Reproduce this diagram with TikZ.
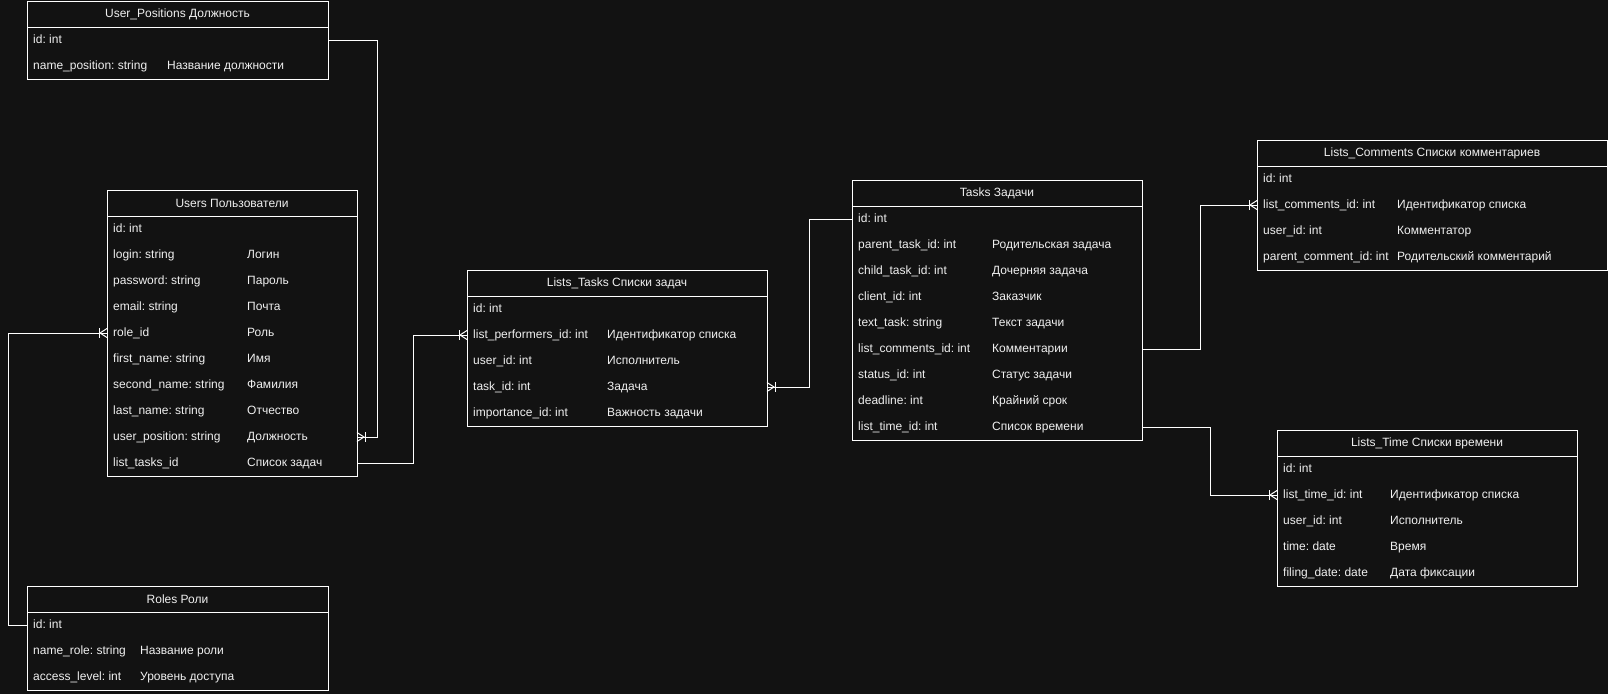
\documentclass[tikz,border=0pt]{standalone}
\usepackage{fontspec}
\setmainfont{Liberation Sans}
\frenchspacing
\usetikzlibrary{calc}
\definecolor{bgc}{HTML}{121212}
\definecolor{fgc}{HTML}{F0F0F0}
\tikzset{
  edge/.style={draw=white, line width=1pt},
  tbl/.style={draw=white, fill=bgc, line width=1pt, inner sep=0pt, outer sep=0pt},
  ttl/.style={text=fgc, font=\fontsize{12}{14}\selectfont, inner sep=0pt},
  fld/.style={text=fgc, font=\fontsize{12}{14}\selectfont, inner sep=0pt, anchor=west, text height=8.6pt, text depth=2.6pt},
}
% table: name, x, y, width, rows, title
\newcommand\ertable[6]{%
  \pgfmathsetmacro\erh{26+26*#5}%
  \node[tbl, minimum width=#4pt, minimum height=\erh pt, anchor=north west] (#1) at (#2,#3) {};
  \node[ttl] (#1-title) at ($(#1.north)+(0,13)$) {#6};
  \draw[edge] ($(#1.north west)+(0,26)$) -- ($(#1.north east)+(0,26)$);
}
% key only: table, index, text
\newcommand\erkey[3]{%
  \node[fld] (#1-r#2) at ($(#1.north west)+(6,{39+26*#2})$) {#3};
}
% key + comment: table, index, offset, key, comment
\newcommand\errow[5]{%
  \node[fld] (#1-r#2) at ($(#1.north west)+(6,{39+26*#2})$) {#4};
  \node[fld] (#1-c#2) at ($(#1.north west)+(#3,{39+26*#2})$) {#5};
}
% crow's foot (one or many): point on box edge, direction (+1 right, -1 left)
\newcommand\crowfoot[2]{%
  \draw[edge] ($(#1)+(0,-4.5)$) -- ($(#1)+({#2*7},0)$) -- ($(#1)+(0,4.5)$);
  \draw[edge] ($(#1)+({#2*8},-5)$) -- ($(#1)+({#2*8},5)$);
}
\begin{document}
\begin{tikzpicture}[x=1pt,y=-1pt]
\fill[bgc] (0,0) rectangle (1608,694);
\useasboundingbox (0,0) rectangle (1608,694);

% User_Positions
\ertable{up}{27}{1}{301}{2}{User\_Positions Должность}
\erkey{up}{0}{id: int}
\errow{up}{1}{140}{name\_position: string}{Название должности}

% Users
\ertable{users}{107}{190}{250}{10}{Users Пользователи}
\erkey{users}{0}{id: int}
\errow{users}{1}{140}{login: string}{Логин}
\errow{users}{2}{140}{password: string}{Пароль}
\errow{users}{3}{140}{email: string}{Почта}
\errow{users}{4}{140}{role\_id}{Роль}
\errow{users}{5}{140}{first\_name: string}{Имя}
\errow{users}{6}{140}{second\_name: string}{Фамилия}
\errow{users}{7}{140}{last\_name: string}{Отчество}
\errow{users}{8}{140}{user\_position: string}{Должность}
\errow{users}{9}{140}{list\_tasks\_id}{Список задач}

% Roles
\ertable{roles}{27}{586}{301}{3}{Roles Роли}
\erkey{roles}{0}{id: int}
\errow{roles}{1}{113}{name\_role: string}{Название роли}
\errow{roles}{2}{113}{access\_level: int}{Уровень доступа}

% Lists_Tasks
\ertable{lt}{467}{270}{300}{5}{Lists\_Tasks Списки задач}
\erkey{lt}{0}{id: int}
\errow{lt}{1}{140}{list\_performers\_id: int}{Идентификатор списка}
\errow{lt}{2}{140}{user\_id: int}{Исполнитель}
\errow{lt}{3}{140}{task\_id: int}{Задача}
\errow{lt}{4}{140}{importance\_id: int}{Важность задачи}

% Tasks
\ertable{tasks}{852}{180}{290}{9}{Tasks Задачи}
\erkey{tasks}{0}{id: int}
\errow{tasks}{1}{140}{parent\_task\_id: int}{Родительская задача}
\errow{tasks}{2}{140}{child\_task\_id: int}{Дочерняя задача}
\errow{tasks}{3}{140}{client\_id: int}{Заказчик}
\errow{tasks}{4}{140}{text\_task: string}{Текст задачи}
\errow{tasks}{5}{140}{list\_comments\_id: int}{Комментарии}
\errow{tasks}{6}{140}{status\_id: int}{Статус задачи}
\errow{tasks}{7}{140}{deadline: int}{Крайний срок}
\errow{tasks}{8}{140}{list\_time\_id: int}{Список времени}

% Lists_Comments
\ertable{lc}{1257}{140}{350}{4}{Lists\_Comments Списки комментариев}
\erkey{lc}{0}{id: int}
\errow{lc}{1}{140}{list\_comments\_id: int}{Идентификатор списка}
\errow{lc}{2}{140}{user\_id: int}{Комментатор}
\errow{lc}{3}{140}{parent\_comment\_id: int}{Родительский комментарий}

% Lists_Time
\ertable{ltime}{1277}{430}{300}{5}{Lists\_Time Списки времени}
\erkey{ltime}{0}{id: int}
\errow{ltime}{1}{113}{list\_time\_id: int}{Идентификатор списка}
\errow{ltime}{2}{113}{user\_id: int}{Исполнитель}
\errow{ltime}{3}{113}{time: date}{Время}
\errow{ltime}{4}{113}{filing\_date: date}{Дата фиксации}

% connector end points
\coordinate (e1) at (users.east |- users-r8);
\coordinate (e2) at (users.west |- users-r4);
\coordinate (e3) at (lt.west |- lt-r1);
\coordinate (e4) at (lt.east |- lt-r3);
\coordinate (e5) at (lc.west |- lc-r1);
\coordinate (e6) at (ltime.west |- ltime-r1);

% connectors
\draw[edge] (up.east |- up-r0) -| ($(e1)+(20,0)$) -- (e1);
\draw[edge] (roles.west |- roles-r0) -| ($(e2)+(-99,0)$) -- (e2);
\draw[edge] (users.east |- users-r9) -| ($(e3)+(-54,0)$) -- (e3);
\draw[edge] (tasks.west |- tasks-r0) -| ($(e4)+(42,0)$) -- (e4);
\draw[edge] (tasks.east |- tasks-r5) -| ($(e5)+(-57,0)$) -- (e5);
\draw[edge] (tasks.east |- tasks-r8) -| ($(e6)+(-67,0)$) -- (e6);

\crowfoot{e1}{1}
\crowfoot{e2}{-1}
\crowfoot{e3}{-1}
\crowfoot{e4}{1}
\crowfoot{e5}{-1}
\crowfoot{e6}{-1}
\end{tikzpicture}
\end{document}
